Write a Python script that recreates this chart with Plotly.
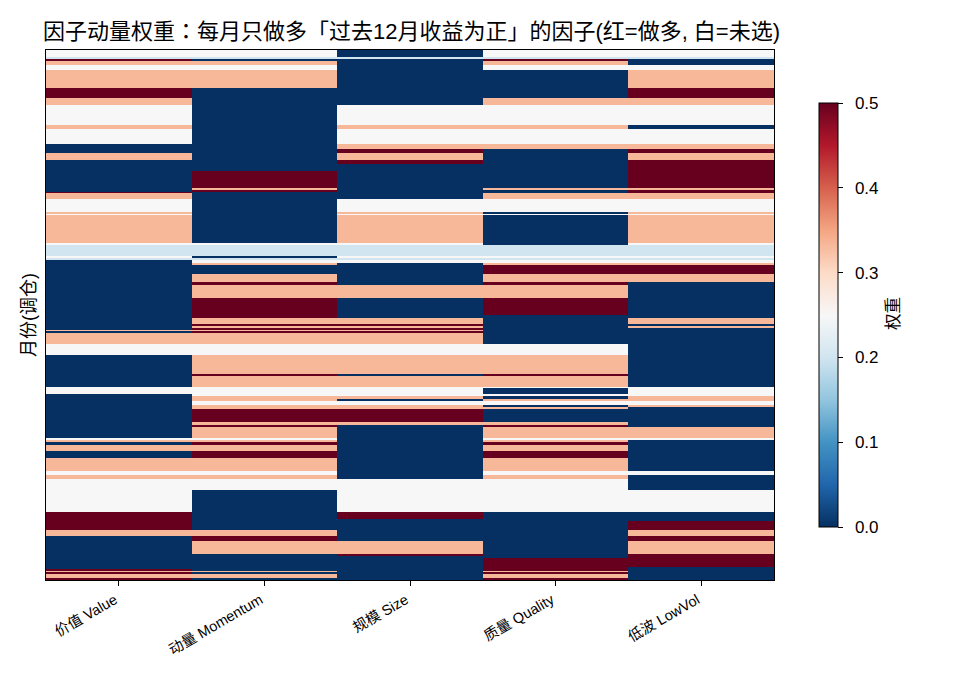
import numpy as np
import plotly.graph_objects as go

FONT = "Liberation Sans, Arial, Noto Sans CJK SC"
TITLE_FONT = "Liberation Sans, Arial, Noto Sans CJK TC"

factors = ["价值 Value", "动量 Momentum", "规模 Size", "质量 Quality", "低波 LowVol"]

# Length of each holding regime, top to bottom, followed by the weight of each factor in it.
regime_rows = [
    7, 2, 2, 4, 5, 18, 10, 7, 20, 4,
    15, 5, 4, 7, 4, 7, 17, 2, 2, 1,
    6, 13, 2, 1, 28, 2, 11, 2, 2, 3,
    2, 9, 8, 3, 13, 17, 3, 6, 2, 2,
    2, 1, 2, 11, 11, 19, 2, 11, 1, 6,
    2, 3, 2, 4, 2, 2, 13, 3, 2, 11,
    2, 2, 3, 6, 7, 13, 4, 4, 11, 22,
    7, 2, 9, 6, 5, 13, 2, 2, 9, 2,
    2, 1, 2, 4, 2,
]
value_w = [
    .25, .2, .5, .333, .25, .333, .5, .333, .25, .333,
    .25, 0, 0, .333, 0, 0, 0, 0, 0, .5,
    .333, .25, .333, .25, .333, .25, .2, .25, .2, 0,
    0, 0, 0, 0, 0, 0, 0, 0, 0, 0,
    0, .333, 0, .333, .25, 0, 0, 0, .25, .25,
    0, 0, 0, 0, 0, 0, 0, 0, 0, 0,
    .25, .333, 0, .333, 0, .333, .25, .333, .25, .25,
    .5, .5, .5, .333, 0, 0, 0, 0, 0, 0,
    .5, .333, .5, .333, .5,
]
momentum_w = [
    .25, .2, 0, .333, .25, .333, 0, 0, 0, 0,
    0, 0, 0, 0, 0, 0, .5, .333, .5, 0,
    0, 0, 0, 0, 0, .25, .2, 0, .2, .25,
    .333, 0, .333, .5, .333, .5, .5, .333, .5, .333,
    .5, .333, .5, .333, .25, .333, .5, .333, .25, .25,
    .25, .333, .333, .25, .333, .333, .5, .333, .5, .333,
    .25, .333, .5, .333, .5, .333, .25, .333, .25, 0,
    0, 0, 0, .333, .5, .333, 0, 0, 0, 0,
    0, .333, 0, .333, 0,
]
size_w = [
    0, .2, 0, 0, 0, 0, 0, 0, .25, .333,
    .25, .333, .5, .333, .5, 0, 0, 0, 0, 0,
    0, .25, .333, .25, .333, .25, .2, .25, .2, .25,
    0, 0, 0, 0, .333, 0, 0, .333, .5, .333,
    .5, .333, .5, .333, .25, .333, 0, .333, .25, .25,
    .25, .333, 0, .25, .333, .333, .5, .333, 0, 0,
    0, 0, 0, 0, 0, 0, 0, 0, .25, .25,
    .5, 0, 0, 0, 0, .333, .5, 0, 0, 0,
    0, 0, 0, 0, 0,
]
quality_w = [
    .25, .2, .5, .333, .25, 0, 0, .333, .25, .333,
    .25, .333, 0, 0, 0, 0, 0, .333, 0, 0,
    .333, .25, 0, .25, 0, 0, .2, .25, .2, .25,
    .333, .5, .333, .5, .333, .5, 0, 0, 0, 0,
    0, 0, 0, 0, .25, .333, .5, .333, .25, 0,
    .25, 0, .333, .25, 0, .333, 0, .333, .5, .333,
    .25, .333, .5, .333, .5, .333, .25, .333, .25, .25,
    0, 0, 0, 0, 0, 0, 0, 0, .5, .5,
    .5, .333, .5, .333, .5,
]
lowvol_w = [
    .25, .2, 0, 0, .25, .333, .5, .333, .25, 0,
    .25, .333, .5, .333, .5, .5, .5, .333, .5, .5,
    .333, .25, .333, .25, .333, .25, .2, .25, .2, .25,
    .333, .5, .333, 0, 0, 0, 0, .333, 0, .333,
    0, 0, 0, 0, 0, 0, 0, 0, .25, .25,
    .25, .333, .333, .25, .333, 0, 0, 0, 0, .333,
    .25, 0, 0, 0, 0, 0, .25, 0, 0, .25,
    0, 0, .5, .333, .5, .333, .5, .5, .5, 0,
    0, 0, 0, 0, 0,
]

colorbar_ticks = [0.0, 0.1, 0.2, 0.3, 0.4, 0.5]

# Expand the regimes into one row per period.
weights = np.column_stack([value_w, momentum_w, size_w, quality_w, lowvol_w])
z = np.repeat(weights, regime_rows, axis=0)

PLOT_W = 728
PLOT_H = 530

fig = go.Figure(
    go.Heatmap(
        z=z,
        x=factors,
        y=np.arange(z.shape[0]),
        colorscale="RdBu_r",
        zmin=0,
        zmax=0.5,
        colorbar=dict(
            thickness=19,
            thicknessmode="pixels",
            len=424,
            lenmode="pixels",
            x=(819 - 46) / PLOT_W,
            xanchor="left",
            xpad=0,
            y=(580 - 103) / PLOT_H,
            yanchor="top",
            ypad=0,
            outlinecolor="black",
            outlinewidth=1,
            ticks="outside",
            ticklen=5,
            tickcolor="black",
            tickvals=colorbar_ticks,
            ticktext=[f"\u2002{t:.1f}" for t in colorbar_ticks],
            tickfont=dict(family=FONT, size=17, color="black"),
        ),
    )
)

fig.update_layout(
    width=975,
    height=676,
    autosize=False,
    paper_bgcolor="white",
    plot_bgcolor="white",
    margin=dict(l=46, r=975 - 46 - PLOT_W, t=50, b=676 - 50 - PLOT_H, autoexpand=False),
    font=dict(family=FONT, color="black"),
    title=dict(
        text="因子动量权重：每月只做多「过去12月收益为正」的因子(红=做多, 白=未选)",
        font=dict(family=TITLE_FONT, size=22, color="black"),
        x=43 / 975,
        xanchor="left",
        xref="container",
        y=1 - 31 / 676,
        yanchor="middle",
        yref="container",
    ),
    annotations=[
        dict(
            text="权重",
            textangle=-90,
            xref="paper",
            yref="paper",
            x=(893 - 46) / PLOT_W,
            y=(580 - 314) / PLOT_H,
            xanchor="center",
            yanchor="middle",
            showarrow=False,
            font=dict(family=FONT, size=16.5, color="black"),
        )
    ],
)
fig.update_xaxes(
    showline=True,
    mirror=True,
    linecolor="black",
    linewidth=1,
    ticks="outside",
    ticklen=5,
    tickcolor="black",
    tickangle=-30,
    ticklabelshift=-4,
    tickfont=dict(family=FONT, size=14.5, color="black"),
    showgrid=False,
    zeroline=False,
)
fig.update_yaxes(
    title=dict(text="月份(调仓)", font=dict(family=FONT, size=18, color="black"), standoff=4),
    autorange="reversed",
    showticklabels=False,
    ticks="",
    showline=True,
    mirror=True,
    linecolor="black",
    linewidth=1,
    showgrid=False,
    zeroline=False,
)

fig.write_html("out.html")
